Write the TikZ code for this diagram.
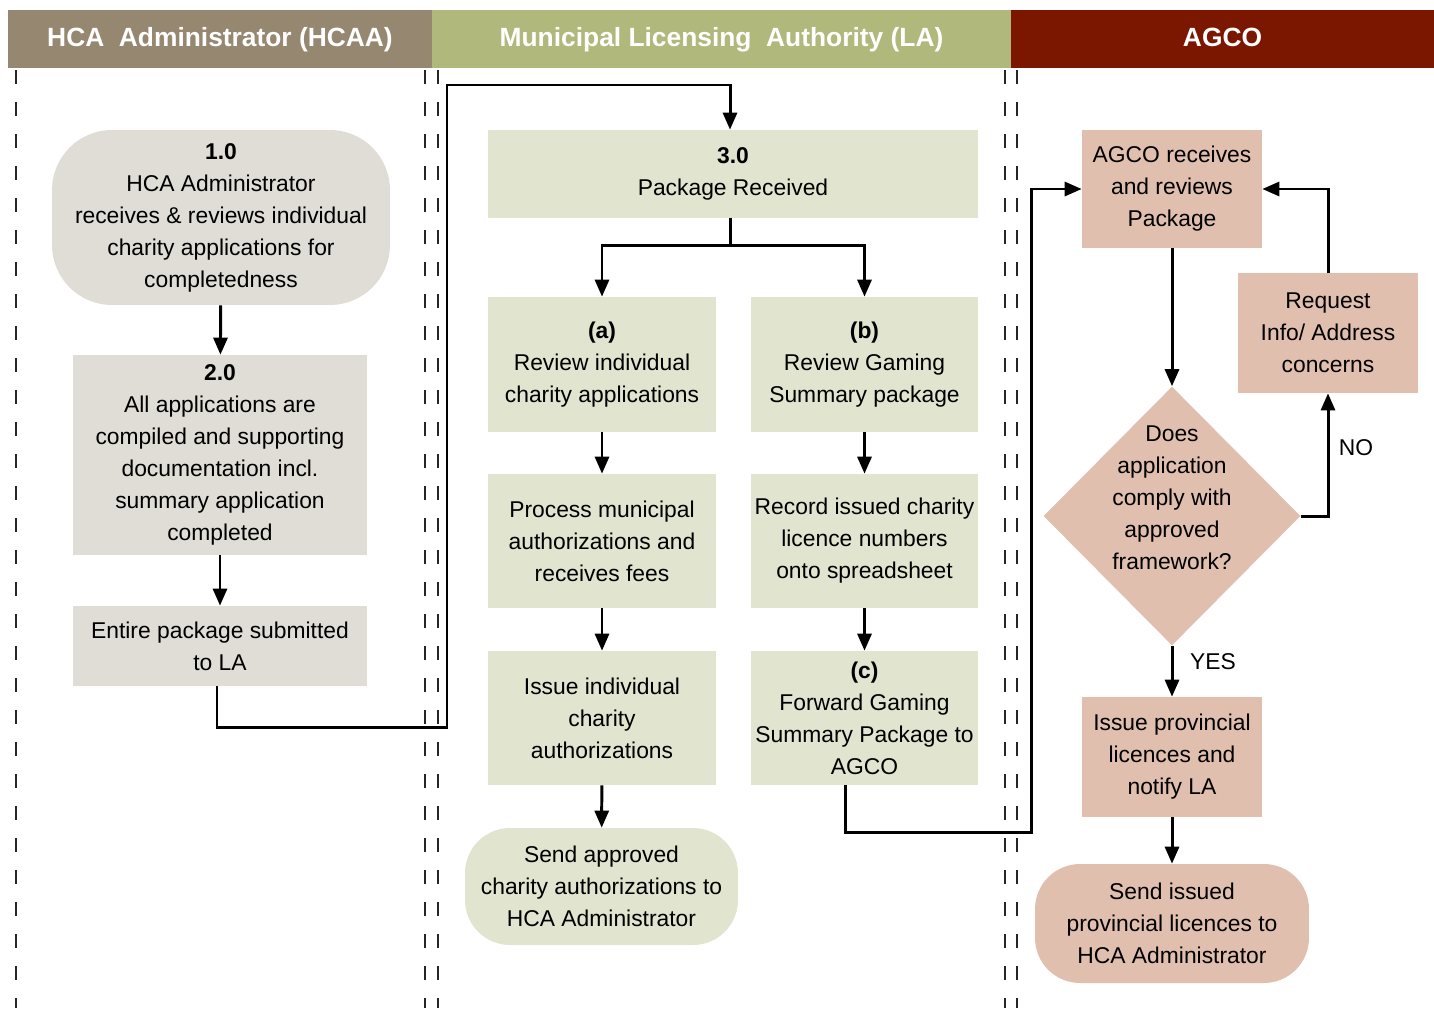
\documentclass[tikz,border=0pt]{standalone}
\usepackage{fontspec}
\setmainfont{Liberation Sans}
\usetikzlibrary{arrows.meta,shapes.geometric}
\definecolor{hcaaC}{RGB}{150,135,112}
\definecolor{laC}{RGB}{176,184,123}
\definecolor{agcoC}{RGB}{123,22,0}
\definecolor{greyF}{RGB}{223,221,213}
\definecolor{greenF}{RGB}{225,228,206}
\definecolor{pinkF}{RGB}{225,191,174}
\tikzset{
  txt/.style={font=\fontsize{13}{18.2}\selectfont,align=center,inner sep=0pt},
  hdr/.style={font=\fontsize{15}{17}\selectfont\bfseries,text=white,inner sep=0pt,minimum height=1.16cm,text height=2ex,text depth=0.3ex},
  gbox/.style={txt,fill=greyF},
  lbox/.style={txt,fill=greenF},
  abox/.style={txt,fill=pinkF},
  arr/.style={line width=1.7pt,-{Triangle[length=3.4mm,width=2.8mm]}},
  lane/.style={line width=0.8pt,black!85,dash pattern=on 0.28cm off 0.36cm}
}
\begin{document}
\begin{tikzpicture}[x=0.02cm,y=-0.02cm]
\useasboundingbox (0,0) rectangle (1434,1008);
% lanes
\node[hdr,fill=hcaaC,minimum width=8.48cm] (hHCAA) at (220,39) {HCA~~Administrator (HCAA)};
\node[hdr,fill=laC,minimum width=11.58cm] (hLA) at (721.5,39) {Municipal Licensing~~Authority (LA)};
\node[hdr,fill=agcoC,minimum width=8.46cm] (hAGCO) at (1222.5,39) {AGCO};
\foreach \x in {16,425,438,1005,1017}
  \draw[lane] (\x,70) -- (\x,1008);

% HCAA
\node[gbox,rounded corners=1.2cm,minimum width=6.76cm,minimum height=3.5cm] (n1) at (221,217.5)
  {\textbf{1.0}\\HCA Administrator\\receives \& reviews individual\\charity applications for\\completedness};
\node[gbox,minimum width=5.88cm,minimum height=4cm] (n2) at (220,455)
  {\textbf{2.0}\\All applications are\\compiled and supporting\\documentation incl.\\summary application\\completed};
\node[gbox,minimum width=5.88cm,minimum height=1.6cm] (ent) at (220,646)
  {Entire package submitted\\to LA};

% LA
\node[lbox,minimum width=9.8cm,minimum height=1.76cm] (n3) at (733,174)
  {\textbf{3.0}\\Package Received};
\node[lbox,minimum width=4.56cm,minimum height=2.7cm] (na) at (602,364.5)
  {\textbf{(a)}\\Review individual\\charity applications};
\node[lbox,minimum width=4.54cm,minimum height=2.7cm] (nb) at (864.5,364.5)
  {\textbf{(b)}\\Review Gaming\\Summary package};
\node[lbox,minimum width=4.56cm,minimum height=2.68cm] (proc) at (602,541)
  {Process municipal\\authorizations and\\receives fees};
\node[lbox,minimum width=4.54cm,minimum height=2.68cm] (rec) at (864.5,541)
  {Record issued charity\\licence numbers\\onto spreadsheet};
\node[lbox,minimum width=4.56cm,minimum height=2.68cm] (iss) at (602,718)
  {Issue individual\\charity\\authorizations};
\node[lbox,minimum width=4.54cm,minimum height=2.68cm] (nc) at (864.5,718)
  {\textbf{(c)}\\Forward Gaming\\Summary Package to\\AGCO};
\node[lbox,rounded corners=0.9cm,minimum width=5.46cm,minimum height=2.34cm] (sap) at (601.5,886.5)
  {Send approved\\charity authorizations to\\HCA Administrator};

% AGCO
\node[abox,minimum width=3.6cm,minimum height=2.36cm] (agr) at (1172,189)
  {AGCO receives\\and reviews\\Package};
\node[abox,minimum width=3.6cm,minimum height=2.4cm] (req) at (1328,333)
  {Request\\Info/ Address\\concerns};
\node[diamond,fill=pinkF,inner sep=0pt,minimum width=5.14cm,minimum height=5.18cm] (dec) at (1172,516) {};
\node[txt] (dectxt) at (1172,498) {Does\\application\\comply with\\approved\\framework?};
\node[abox,minimum width=3.6cm,minimum height=2.4cm] (ip) at (1172,757)
  {Issue provincial\\licences and\\notify LA};
\node[abox,rounded corners=0.9cm,minimum width=5.48cm,minimum height=2.38cm] (si) at (1172,923.5)
  {Send issued\\provincial licences to\\HCA Administrator};

% connectors
\coordinate (bendA) at (447,727);
\coordinate (bendB) at (447,85);
\coordinate (bendC) at (1031,832);
\draw[arr] (n1) -- (n2);
\draw[arr] (n2) -- (ent);
\draw[arr] ([xshift=-0.06cm]ent.south) |- (bendA) -- (bendB) -| ([xshift=-0.06cm]n3.north);
\draw[arr] ([xshift=-0.06cm]n3.south) -- ++(0,27) -| (na.north);
\draw[arr] ([xshift=-0.06cm]n3.south) -- ++(0,27) -| (nb.north);
\draw[arr] (na) -- (proc);
\draw[arr] (proc) -- (iss);
\draw[arr] (iss) -- (sap);
\draw[arr] (nb) -- (rec);
\draw[arr] (rec) -- (nc);
\draw[arr] ([xshift=-0.39cm]nc.south) |- (bendC) |- (agr.west);
\draw[arr] (agr) -- (dec.north);
\draw[arr] (dec.east) -| (req.south);
\draw[arr] (req.north) |- (agr.east);
\draw[arr] (dec.south) -- (ip.north);
\draw[arr] (ip) -- (si);
\node[txt] (lblNo) at (1356,448) {NO};
\node[txt] (lblYes) at (1213,662) {YES};
\end{tikzpicture}
\end{document}
